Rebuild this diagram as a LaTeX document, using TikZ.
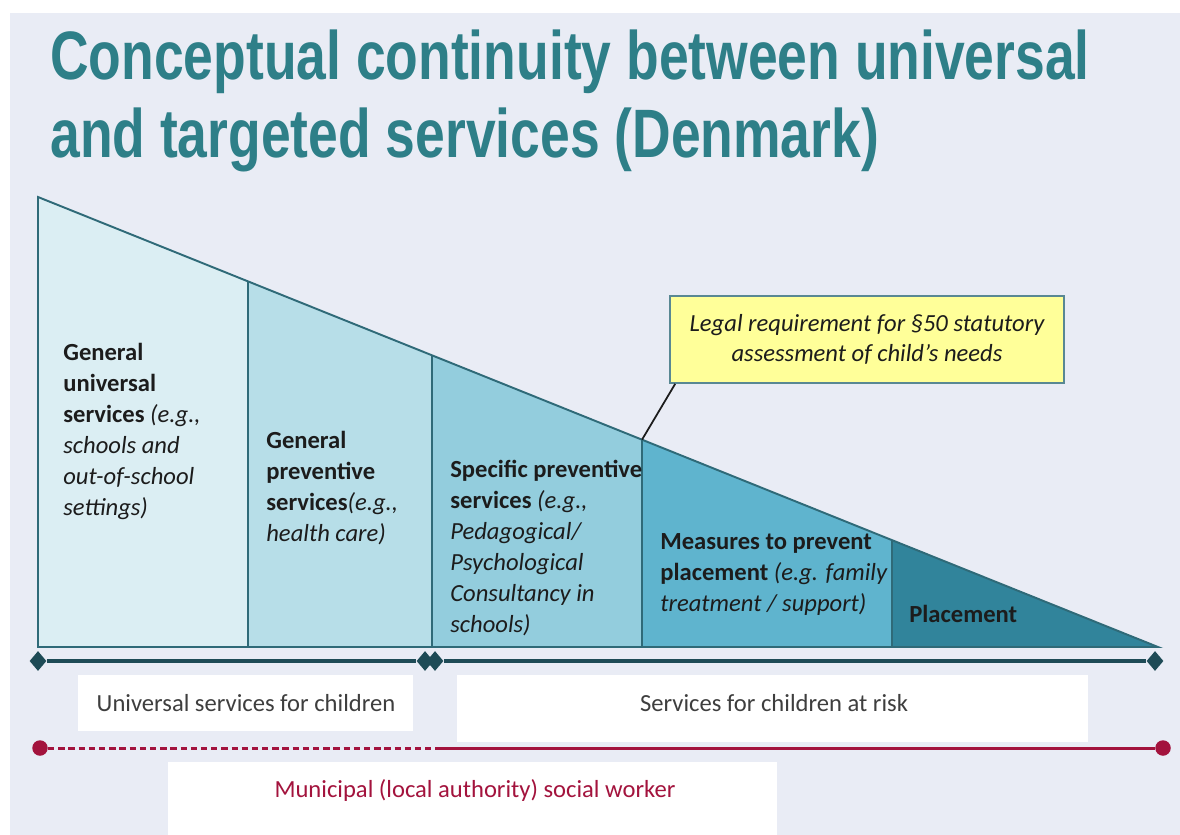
\documentclass[tikz,border=0pt]{standalone}
\usepackage{fontspec}
\setmainfont{Carlito}
\newfontfamily\titlefont[FakeStretch=0.78]{Liberation Sans}
\usetikzlibrary{shapes.geometric}

\definecolor{bgcol}{HTML}{E9ECF5}
\definecolor{titlecol}{HTML}{2E7F88}
\definecolor{edgecol}{HTML}{2F6A78}
\definecolor{sectA}{HTML}{DBEEF3}
\definecolor{sectB}{HTML}{B7DEE8}
\definecolor{sectC}{HTML}{93CDDD}
\definecolor{sectD}{HTML}{5FB4CE}
\definecolor{sectE}{HTML}{31849B}
\definecolor{txtcol}{HTML}{1C1C1C}
\definecolor{darkline}{HTML}{1E4B56}
\definecolor{redcol}{HTML}{A3133D}
\definecolor{calloutcol}{HTML}{FFFF99}

\tikzset{
  section/.style={draw=edgecol, line width=1.1pt, line join=miter},
  secttext/.style={anchor=north west, align=left, inner sep=0pt, text=txtcol,
    font=\fontsize{14}{17.6}\selectfont},
  boxtext/.style={inner sep=0pt, text=txtcol!85, font=\fontsize{14}{17}\selectfont},
  whitebox/.style={fill=white, draw=none, inner sep=0pt, anchor=north west},
  tick/.style={diamond, fill=darkline, inner sep=0pt, minimum width=0.34cm, minimum height=0.4cm},
  dot/.style={circle, fill=redcol, inner sep=0pt, minimum size=0.31cm},
  scaleline/.style={draw=darkline, line width=2.2pt},
  redline/.style={draw=redcol, line width=1.7pt},
  titletext/.style={anchor=base west, inner sep=0pt, text=titlecol,
    font=\titlefont\bfseries\fontsize{39}{44}\selectfont}
}

\begin{document}
\begin{tikzpicture}[x=0.02cm, y=-0.02cm]
\useasboundingbox (0,0) rectangle (1180,835);
\fill[bgcol] (10,13) rectangle (1180,835);

\node[titletext] (title1) at (50,79) {Conceptual continuity between universal};
\node[titletext] (title2) at (50,157) {and targeted services (Denmark)};

% the wedge
\coordinate (top0) at (38,197);
\coordinate (top1) at (248,281.4);
\coordinate (top2) at (432,355.3);
\coordinate (top3) at (642,439.7);
\coordinate (top4) at (892,540.1);
\coordinate (tip)  at (1158,647);
\coordinate (foot0) at (38,647);
\coordinate (foot1) at (248,647);
\coordinate (foot2) at (432,647);
\coordinate (foot3) at (642,647);
\coordinate (foot4) at (892,647);

\fill[sectA] (top0) -- (top1) -- (foot1) -- (foot0) -- cycle;
\fill[sectB] (top1) -- (top2) -- (foot2) -- (foot1) -- cycle;
\fill[sectC] (top2) -- (top3) -- (foot3) -- (foot2) -- cycle;
\fill[sectD] (top3) -- (top4) -- (foot4) -- (foot3) -- cycle;
\fill[sectE] (top4) -- (tip) -- (foot4) -- cycle;
\draw[section] (top0) -- (tip) -- (foot0) -- cycle;
\draw[section] (top1) -- (foot1);
\draw[section] (top2) -- (foot2);
\draw[section] (top3) -- (foot3);
\draw[section] (top4) -- (foot4);

\node[secttext] (general) at (63,343) {\textbf{General}\\\textbf{universal}\\\textbf{services} \textit{(e.g.,}\\\textit{schools and}\\\textit{out-of-school}\\\textit{settings)}};
\node[secttext] (preventive) at (266,431) {\textbf{General}\\\textbf{preventive}\\\textbf{services}\textit{(e.g.,}\\\textit{health care)}};
\node[secttext] (specific) at (450,460) {\textbf{Specific preventive}\\\textbf{services} \textit{(e.g.,}\\\textit{Pedagogical/}\\\textit{Psychological}\\\textit{Consultancy in}\\\textit{schools)}};
\node[secttext] (measures) at (660,533) {\textbf{Measures to prevent}\\\textbf{placement} \textit{(e.g. family}\\\textit{treatment / support)}};
\node[secttext] (placement) at (909,605) {\textbf{Placement}};

\node[draw=edgecol!80, line width=1pt, fill=calloutcol, minimum width=7.88cm, minimum height=1.74cm,
  align=center, text=txtcol, font=\itshape\fontsize{14}{17}\selectfont] (legal) at (867,339.5)
  {Legal requirement for §50 statutory\\assessment of child’s needs};
\draw[line width=1pt, txtcol] ([xshift=0.12cm]legal.south west) -- (top3);

% spans below the wedge
\node[tick] (d0) at (38,661) {};
\node[tick] (d1) at (425,661) {};
\node[tick] (d2) at (435,661) {};
\node[tick] (d3) at (1155,661) {};
\draw[scaleline] (d0) -- (d1);
\draw[scaleline] (d2) -- (d3);

\node[whitebox, minimum width=6.7cm, minimum height=1.12cm] (univbox) at (78,675) {};
\node[boxtext] (univ) at (246,703) {Universal services for children};
\node[whitebox, minimum width=12.62cm, minimum height=1.34cm] (riskbox) at (457,675) {};
\node[boxtext] (risk) at (774,703) {Services for children at risk};

\node[dot] (r0) at (40,748) {};
\coordinate (rmid) at (435,748);
\node[dot] (r1) at (1163,748) {};
\draw[redline, dash pattern=on 3.6pt off 2.2pt] (r0) -- (rmid);
\draw[redline] (rmid) -- (r1);

\node[whitebox, minimum width=12.18cm, minimum height=1.46cm] (socbox) at (168,762) {};
\node[boxtext, text=redcol] (social) at (475,790) {Municipal (local authority) social worker};
\end{tikzpicture}
\end{document}
